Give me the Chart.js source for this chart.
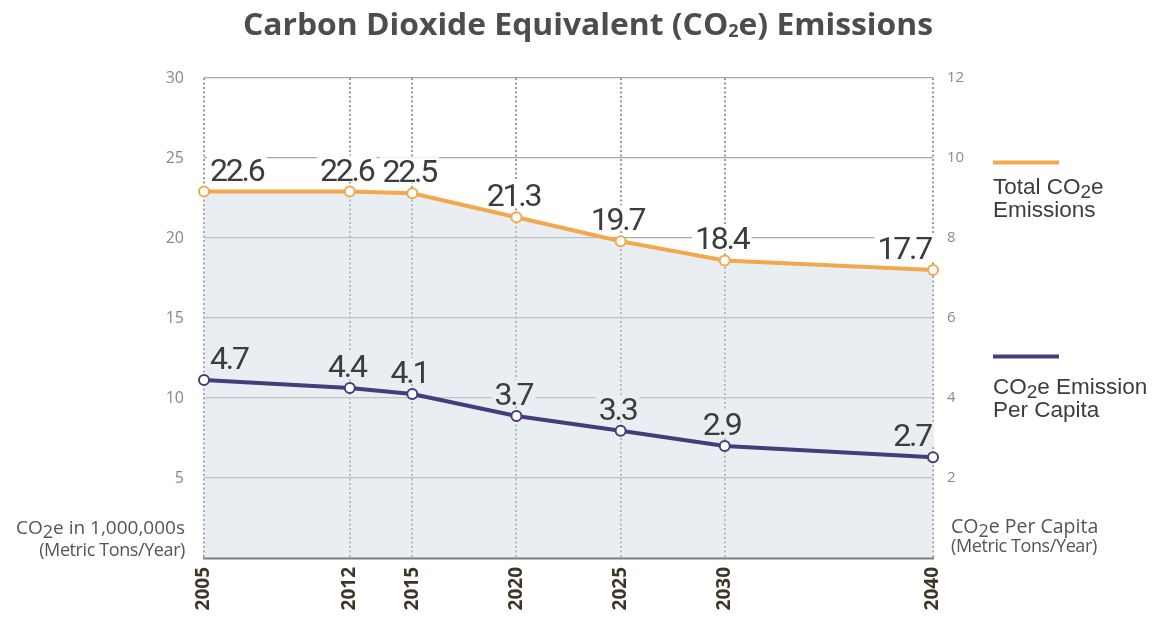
<!DOCTYPE html>
<html>
<head>
<meta charset="utf-8">
<script src="https://cdn.jsdelivr.net/npm/chart.js@4.4.0/dist/chart.umd.min.js"></script>
<style>
  body { margin: 0; background: #fff; }
  #wrap { width: 1159px; height: 617px; position: relative; }
</style>
</head>
<body>
<div id="wrap"><canvas id="co2Chart"></canvas></div>
<script>
const years = [2005, 2012, 2015, 2020, 2025, 2030, 2040];
// where the points sit in the picture
const totalEmissions = [22.9, 22.9, 22.8, 21.3, 19.8, 18.6, 18.0];
const perCapita = [4.45, 4.25, 4.1, 3.55, 3.18, 2.8, 2.52];
// the numbers printed next to the points
const totalLabels = ['22.6', '22.6', '22.5', '21.3', '19.7', '18.4', '17.7'];
const perCapitaLabels = ['4.7', '4.4', '4.1', '3.7', '3.3', '2.9', '2.7'];
const leftMax = 30, leftStep = 5;
const rightMax = 12, rightStep = 2;

const orange = '#f2a94d';
const purple = '#433d7c';
const fillSolid = '#e9eef3';

// draw text with a subscript part, segs = [[text, isSub], ...]
function drawRich(ctx, segs, x, y, align, font, subFont, subDrop) {
  let w = 0;
  segs.forEach(s => { ctx.font = s[1] ? subFont : font; w += ctx.measureText(s[0]).width; });
  let cx = align === 'right' ? x - w : (align === 'center' ? x - w / 2 : x);
  ctx.textAlign = 'left';
  segs.forEach(s => {
    ctx.font = s[1] ? subFont : font;
    ctx.fillText(s[0], cx, s[1] ? y + subDrop : y);
    cx += ctx.measureText(s[0]).width;
  });
  return w;
}

const pointLabels = {
  id: 'pointLabels',
  afterDatasetsDraw(chart) {
    const ctx = chart.ctx;
    ctx.save();
    ctx.font = '32px Roboto';
    ctx.letterSpacing = '-2.2px';
    ctx.textBaseline = 'alphabetic';
    ctx.textAlign = 'left';
    [[0, totalLabels, '#ffffff'], [1, perCapitaLabels, fillSolid]].forEach(([di, labels, bg]) => {
      const pts = chart.getDatasetMeta(di).data;
      pts.forEach((p, i) => {
        const txt = labels[i];
        const w = ctx.measureText(txt).width;
        let x;
        if (i === 0) x = p.x + 6;
        else if (i === pts.length - 1) x = p.x - 2 - w;
        else x = p.x - 3 - w / 2;
        const base = p.y - 11;
        ctx.fillStyle = bg;
        ctx.fillRect(x - 3, base - 25, w + 6, 26);
        ctx.fillStyle = '#3c3c3c';
        ctx.fillText(txt, x, base);
      });
    });
    ctx.restore();
  }
};

const decorations = {
  id: 'decorations',
  afterDraw(chart) {
    const ctx = chart.ctx;
    ctx.save();
    ctx.textBaseline = 'alphabetic';

    // title, squeezed to the width of the original
    ctx.fillStyle = '#4d4d4d';
    const tf = 'bold 30px "Open Sans"', ts = 'bold 17px "Open Sans"';
    const tsegs = [['Carbon Dioxide Equivalent (CO', 0], ['2', 1], ['e) Emissions', 0]];
    let tw = 0;
    tsegs.forEach(s => { ctx.font = s[1] ? ts : tf; tw += ctx.measureText(s[0]).width; });
    ctx.save();
    ctx.translate(588, 35);
    ctx.scale(690 / tw, 1);
    drawRich(ctx, tsegs, 0, 0, 'center', tf, ts, 2);
    ctx.restore();

    // axis titles
    ctx.fillStyle = '#555555';
    drawRich(ctx, [['CO', 0], ['2', 1], ['e in 1,000,000s', 0]], 185, 534,
      'right', '19px "Open Sans"', '18px "Open Sans"', 4);
    ctx.font = '18px "Open Sans"';
    ctx.letterSpacing = '-0.4px';
    ctx.textAlign = 'right';
    ctx.fillText('(Metric Tons/Year)', 185, 556);
    ctx.letterSpacing = '0px';
    drawRich(ctx, [['CO', 0], ['2', 1], ['e Per Capita', 0]], 951, 533,
      'left', '19.5px "Open Sans"', '18px "Open Sans"', 4);
    ctx.font = '18px "Open Sans"';
    ctx.letterSpacing = '-0.4px';
    ctx.textAlign = 'left';
    ctx.fillText('(Metric Tons/Year)', 951, 552);
    ctx.letterSpacing = '0px';

    // legend
    ctx.lineWidth = 4;
    ctx.strokeStyle = orange;
    ctx.beginPath(); ctx.moveTo(993, 162.5); ctx.lineTo(1059, 162.5); ctx.stroke();
    ctx.strokeStyle = purple;
    ctx.beginPath(); ctx.moveTo(993, 356.5); ctx.lineTo(1059, 356.5); ctx.stroke();
    ctx.fillStyle = '#3d3d3d';
    const lf = '22.5px "Liberation Sans"', ls = '19px "Liberation Sans"';
    drawRich(ctx, [['Total CO', 0], ['2', 1], ['e', 0]], 993, 194, 'left', lf, ls, 4);
    ctx.font = lf; ctx.textAlign = 'left';
    ctx.fillText('Emissions', 993, 217);
    drawRich(ctx, [['CO', 0], ['2', 1], ['e Emission', 0]], 993, 394, 'left', lf, ls, 4);
    ctx.font = lf; ctx.textAlign = 'left';
    ctx.fillText('Per Capita', 993, 417);
    ctx.restore();
  }
};

new Chart(document.getElementById('co2Chart'), {
  type: 'line',
  data: {
    datasets: [
      {
        label: 'Total CO2e Emissions',
        data: years.map((y, i) => ({ x: y, y: totalEmissions[i] })),
        yAxisID: 'y',
        order: 2,
        borderColor: orange,
        borderWidth: 4,
        backgroundColor: 'rgba(211,221,231,0.5)',
        fill: 'origin',
        pointRadius: 5,
        pointBorderWidth: 2,
        pointBackgroundColor: '#ffffff',
        pointBorderColor: orange,
        tension: 0,
        clip: false
      },
      {
        label: 'CO2e Emission Per Capita',
        data: years.map((y, i) => ({ x: y, y: perCapita[i] })),
        yAxisID: 'y1',
        order: 1,
        borderColor: purple,
        borderWidth: 4,
        fill: false,
        pointRadius: 5,
        pointBorderWidth: 2,
        pointBackgroundColor: '#ffffff',
        pointBorderColor: purple,
        tension: 0,
        clip: false
      }
    ]
  },
  options: {
    responsive: true,
    maintainAspectRatio: false,
    animation: false,
    layout: { padding: { top: 78, left: 0, right: 0, bottom: 0 } },
    plugins: {
      legend: { display: false },
      tooltip: { enabled: false },
      title: { display: false }
    },
    scales: {
      x: {
        type: 'linear',
        min: years[0],
        max: years[years.length - 1],
        afterBuildTicks: (scale) => { scale.ticks = years.map(v => ({ value: v })); },
        afterFit: (scale) => { scale.height = 59; },
        ticks: {
          autoSkip: false,
          minRotation: 90,
          maxRotation: 90,
          padding: 9,
          color: '#3d3526',
          font: { family: 'Open Sans', size: 19, weight: 'bold' },
          callback: (v) => String(v)
        },
        grid: { color: '#9a9a9a', lineWidth: 2, drawTicks: false },
        border: { display: true, color: '#808080', width: 2.5, dash: [2, 2.5] }
      },
      y: {
        position: 'left',
        min: 0,
        max: leftMax,
        afterFit: (scale) => { scale.width = 204; },
        ticks: {
          stepSize: leftStep,
          padding: 20,
          color: '#8a8a8a',
          font: { family: 'Open Sans', size: 16 },
          callback: (v) => v === 0 ? '' : v
        },
        grid: {
          drawTicks: false,
          lineWidth: 1.2,
          color: (c) => c.tick && c.tick.value === 0 ? 'rgba(0,0,0,0)' : '#a8a8a8'
        },
        border: { display: false }
      },
      y1: {
        position: 'right',
        min: 0,
        max: rightMax,
        afterFit: (scale) => { scale.width = 226; },
        ticks: {
          stepSize: rightStep,
          padding: 14,
          color: '#8a8a8a',
          font: { family: 'Open Sans', size: 15 },
          callback: (v) => v === 0 ? '' : v
        },
        grid: { display: false, drawTicks: false },
        border: { display: false }
      }
    }
  },
  plugins: [pointLabels, decorations]
});
</script>
</body>
</html>
